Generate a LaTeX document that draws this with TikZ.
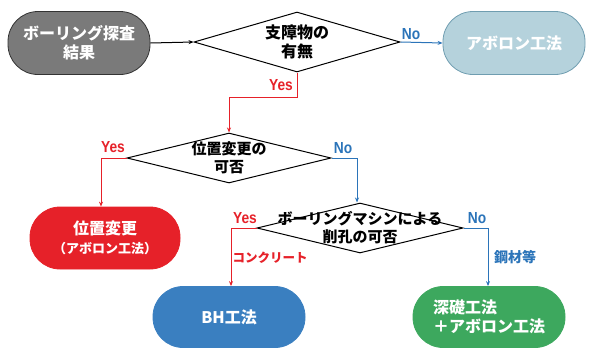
\documentclass[tikz,border=0pt]{standalone}
\usepackage{fontspec}
\setmainfont{Noto Sans CJK JP}[BoldFont={Noto Sans CJK JP Black}]
\newfontfamily\lab{Liberation Sans}
\usetikzlibrary{shapes.geometric,arrows.meta}
\definecolor{cred}{HTML}{E62129}
\definecolor{cblue}{HTML}{2B74B9}
\definecolor{cgrey}{HTML}{7A7A7A}
\definecolor{capo}{HTML}{B5D2DC}
\definecolor{capoline}{HTML}{6F9DB0}
\definecolor{cbh}{HTML}{3A7FC0}
\definecolor{cgreen}{HTML}{3DA85E}
\tikzset{
  term/.style={rounded corners=30pt,minimum width=148pt,minimum height=62pt,inner sep=0pt,
    text=white,font=\bfseries\fontsize{16}{19}\selectfont,align=center,line width=0.8pt},
  dec/.style={diamond,draw=black,line width=1pt,fill=white,inner sep=0pt},
  dtext/.style={font=\bfseries\fontsize{15}{18}\selectfont,align=center,inner sep=0pt},
  arr/.style={line width=1pt,-{Stealth[length=5pt,width=4pt]}},
  ylab/.style={text=cred,font=\lab\bfseries\fontsize{16}{16}\selectfont,inner sep=1pt,xscale=0.86},
  nlab/.style={text=cblue,font=\lab\bfseries\fontsize{16}{16}\selectfont,inner sep=1pt,xscale=0.86},
  jlab/.style={font=\bfseries\fontsize{12.5}{14}\selectfont,inner sep=1pt}
}
\begin{document}
\begin{tikzpicture}[x=1pt,y=-1pt]
\useasboundingbox (0,0) rectangle (591,351);
% nodes
\node[term,fill=cgrey,draw=black!80,minimum width=142pt,minimum height=63pt] (start) at (79,43) {ボーリング探査\\結果};
\node[dec,minimum width=206pt,minimum height=60pt] (d1) at (297,42) {};
\node[dtext,font=\bfseries\fontsize{16}{19}\selectfont] (t1) at (d1.center) {支障物の\\有無};
\node[term,fill=capo,draw=capoline,minimum width=142pt,minimum height=63pt] (apo) at (514,43) {アボロン工法};
\node[dec,minimum width=204pt,minimum height=50pt] (d2) at (229,158) {};
\node[dtext] (t2) at (d2.center) {位置変更の\\可否};
\node[term,fill=cred,draw=cred,minimum width=150pt,minimum height=62pt] (pos) at (105,238) {位置変更\\{\fontsize{13}{16}\selectfont（アボロン工法）}};
\node[dec,minimum width=206pt,minimum height=50pt] (d3) at (360,228) {};
\node[dtext] (t3) at (d3.center) {ボーリングマシンによる\\削孔の可否};
\node[term,fill=cbh,draw=cbh,minimum width=152pt,minimum height=61pt] (bh) at (229,317) {BH工法};
\node[term,fill=cgreen,draw=cgreen,minimum width=152pt,minimum height=61pt,align=left] (deep) at (489,317) {深礎工法\\＋アボロン工法};
% coordinates
\coordinate (c1) at (297,97);
\coordinate (c2) at (229,97);
\coordinate (c3) at (101,158);
\coordinate (c4) at (357,158);
\coordinate (c5) at (231,228);
\coordinate (c6) at (488,228);
% connectors
\draw[arr,black] (start.east) -- (d1.west);
\draw[arr,cblue] (d1.east) -- (apo.west);
\draw[arr,cred] (d1.south) -- (c1) -- (c2) -- (d2.north);
\draw[arr,cred] (d2.west) -- (c3) -- (pos.north -| c3);
\draw[arr,cblue] (d2.east) -- (c4) -- (d3.north -| c4);
\draw[arr,cred] (d3.west) -- (c5) -- (bh.north -| c5);
\draw[arr,cblue] (d3.east) -- (c6) -- (deep.north -| c6);
% labels
\node[nlab] (lno1) at (411,34) {No};
\node[ylab] (lyes1) at (281,85) {Yes};
\node[ylab] (lyes2) at (113,147) {Yes};
\node[nlab] (lno2) at (343,148) {No};
\node[ylab] (lyes3) at (245,218) {Yes};
\node[nlab] (lno3) at (477,218) {No};
\node[jlab,text=cred] (lcon) at (270,258) {コンクリート};
\node[jlab,text=cblue,font=\bfseries\fontsize{14}{16}\selectfont] (lsteel) at (515,257) {鋼材等};
\end{tikzpicture}
\end{document}
